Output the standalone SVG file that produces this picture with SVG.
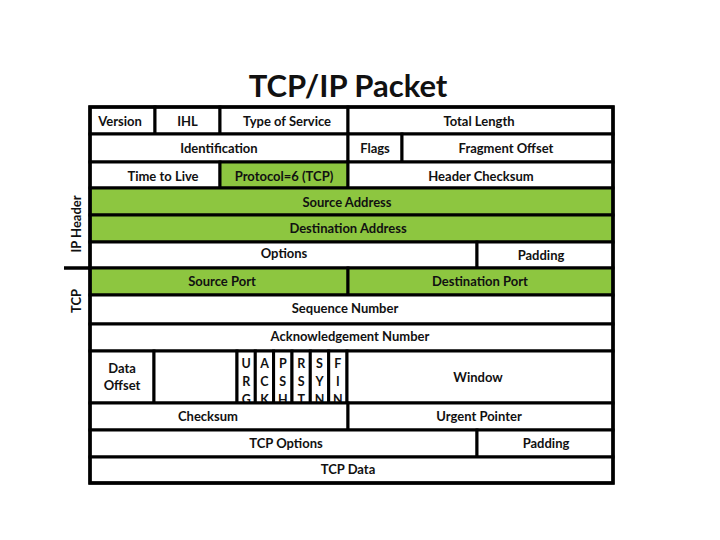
<svg xmlns="http://www.w3.org/2000/svg" width="720" height="540" viewBox="0 0 720 540">
<style>
.c{fill:#fff;stroke:#000;stroke-width:3}
.g{fill:#8DC640;stroke:#000;stroke-width:3}
text{font-family:Lato,"Open Sans","Liberation Sans",sans-serif;font-weight:700;font-size:13px;fill:#111;text-anchor:middle}
.t{font-size:31px}
.f{font-size:12.5px}
</style>
<rect width="720" height="540" fill="#fff"/>
<text class="t" x="348" y="97">TCP/IP Packet</text>
<g id="cells">
<g id="version"><rect class="c" x="90" y="107" width="65" height="27"/><text x="120" y="125.5">Version</text></g>
<g id="ihl"><rect class="c" x="155" y="107" width="65" height="27"/><text x="187.5" y="125.5">IHL</text></g>
<g id="tos"><rect class="c" x="220" y="107" width="128" height="27"/><text x="287" y="125.5">Type of Service</text></g>
<g id="total-length"><rect class="c" x="348" y="107" width="265" height="27"/><text x="479" y="125.5">Total Length</text></g>
<g id="identification"><rect class="c" x="90" y="134" width="258" height="28"/><text x="219" y="153">Identification</text></g>
<g id="ip-flags"><rect class="c" x="348" y="134" width="54" height="28"/><text x="375" y="153">Flags</text></g>
<g id="fragment-offset"><rect class="c" x="402" y="134" width="211" height="28"/><text x="506" y="153">Fragment Offset</text></g>
<g id="ttl"><rect class="c" x="90" y="162" width="130" height="26"/><text x="163" y="180.5">Time to Live</text></g>
<g id="protocol"><rect class="g" x="220" y="162" width="128" height="26"/><text x="284" y="180.5">Protocol=6 (TCP)</text></g>
<g id="header-checksum"><rect class="c" x="348" y="162" width="265" height="26"/><text x="481" y="180.5">Header Checksum</text></g>
<g id="source-address"><rect class="g" x="90" y="188" width="523" height="27"/><text x="347" y="206.5">Source Address</text></g>
<g id="destination-address"><rect class="g" x="90" y="215" width="523" height="27"/><text x="348" y="233">Destination Address</text></g>
<g id="options"><rect class="c" x="90" y="242" width="387" height="26"/><text x="284" y="258">Options</text></g>
<g id="ip-padding"><rect class="c" x="477" y="242" width="136" height="26"/><text x="541" y="260">Padding</text></g>
<g id="source-port"><rect class="g" x="90" y="268" width="258" height="27"/><text x="222" y="286">Source Port</text></g>
<g id="destination-port"><rect class="g" x="348" y="268" width="265" height="27"/><text x="480" y="286">Destination Port</text></g>
<g id="sequence-number"><rect class="c" x="90" y="295" width="523" height="29"/><text x="345" y="313">Sequence Number</text></g>
<g id="ack-number"><rect class="c" x="90" y="324" width="523" height="27"/><text x="350" y="341">Acknowledgement Number</text></g>
<g id="data-offset"><rect class="c" x="90" y="351" width="64" height="52"/><text x="122" y="372.5">Data</text><text x="122" y="389.5">Offset</text></g>
<g id="reserved"><rect class="c" x="154" y="351" width="83" height="52"/></g>
<g id="urg"><rect class="c" x="237" y="351" width="18.3" height="52"/><text class="f" x="246.2" y="368">U</text><text class="f" x="246.2" y="386">R</text><text class="f" x="246.2" y="404">G</text></g>
<g id="ack"><rect class="c" x="255.3" y="351" width="18.3" height="52"/><text class="f" x="264.5" y="368">A</text><text class="f" x="264.5" y="386">C</text><text class="f" x="264.5" y="404">K</text></g>
<g id="psh"><rect class="c" x="273.6" y="351" width="18.4" height="52"/><text class="f" x="282.8" y="368">P</text><text class="f" x="282.8" y="386">S</text><text class="f" x="282.8" y="404">H</text></g>
<g id="rst"><rect class="c" x="292" y="351" width="18.3" height="52"/><text class="f" x="301.2" y="368">R</text><text class="f" x="301.2" y="386">S</text><text class="f" x="301.2" y="404">T</text></g>
<g id="syn"><rect class="c" x="310.3" y="351" width="18.4" height="52"/><text class="f" x="319.5" y="368">S</text><text class="f" x="319.5" y="386">Y</text><text class="f" x="319.5" y="404">N</text></g>
<g id="fin"><rect class="c" x="328.7" y="351" width="18.3" height="52"/><text class="f" x="337.8" y="368">F</text><text class="f" x="337.8" y="386">I</text><text class="f" x="337.8" y="404">N</text></g>
<g id="window"><rect class="c" x="347" y="351" width="266" height="52"/><text x="478" y="382">Window</text></g>
<g id="checksum"><rect class="c" x="90" y="403" width="258" height="27"/><text x="208" y="421">Checksum</text></g>
<g id="urgent-pointer"><rect class="c" x="348" y="403" width="265" height="27"/><text x="479" y="421">Urgent Pointer</text></g>
<g id="tcp-options"><rect class="c" x="90" y="430" width="387" height="27"/><text x="286" y="448">TCP Options</text></g>
<g id="tcp-padding"><rect class="c" x="477" y="430" width="136" height="27"/><text x="546" y="448">Padding</text></g>
<g id="tcp-data"><rect class="c" x="90" y="457" width="523" height="26"/><text x="348" y="474">TCP Data</text></g>
</g>
<g id="frame">
<rect x="90" y="107" width="523" height="376" fill="none" stroke="#000" stroke-width="3.5"/>
<line x1="64" y1="268" x2="90" y2="268" stroke="#000" stroke-width="3.5"/>
</g>
<g id="ip-header-label"><text transform="translate(81,224) rotate(-90)">IP Header</text></g>
<g id="tcp-label"><text transform="translate(81,301) rotate(-90)">TCP</text></g>
</svg>
